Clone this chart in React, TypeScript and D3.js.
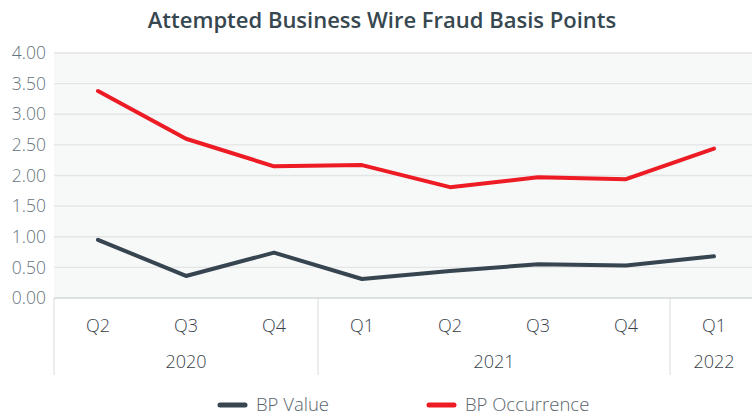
import React from "react";
import * as d3 from "d3";

const quarters = ["Q2", "Q3", "Q4", "Q1", "Q2", "Q3", "Q4", "Q1"];
const years = [
  { label: "2020", start: 0, end: 3 },
  { label: "2021", start: 3, end: 7 },
  { label: "2022", start: 7, end: 8 },
];
const bpValue = [0.95, 0.36, 0.74, 0.31, 0.44, 0.55, 0.53, 0.68];
const bpOccurrence = [3.38, 2.6, 2.15, 2.17, 1.81, 1.97, 1.94, 2.44];
const yTicks = [0, 0.5, 1, 1.5, 2, 2.5, 3, 3.5, 4];
const seriesNames = ["BP Value", "BP Occurrence"];
const seriesColors = ["#36454f", "#ed1c24"];

const W = 752;
const H = 417;
const left = 54;
const right = 758;
const top = 53;
const bottom = 298;
const FONT = "'Open Sans', sans-serif";

export default function App() {
  const idx = quarters.map((_, i) => i);
  const x = d3.scaleBand<number>().domain(idx).range([left, right]).padding(0);
  const y = d3.scaleLinear().domain([0, 4]).range([bottom, top]);
  const line = d3
    .line<number>()
    .x((_, i) => (x(i) as number) + x.bandwidth() / 2)
    .y((d) => y(d));

  const series = [bpValue, bpOccurrence];

  return (
    <svg
      width={W}
      height={H}
      style={{ position: "absolute", left: 0, top: 0, background: "#fff" }}
    >
      <text
        x={382}
        y={28}
        textAnchor="middle"
        fontFamily={FONT}
        fontWeight={600}
        fontSize={22}
        fill="#37474f"
      >
        Attempted Business Wire Fraud Basis Points
      </text>
      <rect x={left} y={top} width={right - left} height={bottom - top} fill="#f7f8f8" />
      {yTicks.map((t) => (
        <g key={t}>
          <line
            x1={left}
            x2={right}
            y1={y(t)}
            y2={y(t)}
            stroke={t === 0 ? "#d5d8da" : "#e3e5e6"}
            strokeWidth={1.3}
          />
          <text
            x={46}
            y={y(t)}
            dy="0.35em"
            textAnchor="end"
            fontFamily={FONT}
            fontWeight={300}
            fontSize={17.5}
            fill="#66737c"
          >
            {t.toFixed(2)}
          </text>
        </g>
      ))}
      {[0, 3, 7].map((b) => (
        <line
          key={b}
          x1={x(b) as number}
          x2={x(b) as number}
          y1={bottom}
          y2={375}
          stroke="#d8dadc"
          strokeWidth={1}
        />
      ))}
      {quarters.map((q, i) => (
        <text
          key={i}
          x={(x(i) as number) + x.bandwidth() / 2}
          y={326}
          dy="0.35em"
          textAnchor="middle"
          fontFamily={FONT}
          fontWeight={300}
          fontSize={18}
          fill="#37414a"
        >
          {q}
        </text>
      ))}
      {years.map((yr) => {
        const x0 = x(yr.start) as number;
        const x1 = x(yr.end - 1) as number;
        const cx = (x0 + x1 + x.bandwidth()) / 2;
        return (
          <text
            key={yr.label}
            x={cx}
            y={362}
            dy="0.35em"
            textAnchor="middle"
            fontFamily={FONT}
            fontWeight={300}
            fontSize={18}
            fill="#37414a"
          >
            {yr.label}
          </text>
        );
      })}
      {series.map((s, k) => (
        <path
          key={k}
          d={line(s) as string}
          fill="none"
          stroke={seriesColors[k]}
          strokeWidth={4}
          strokeLinecap="round"
          strokeLinejoin="round"
        />
      ))}
      {seriesNames.map((n, k) => {
        const lx = k === 0 ? 220 : 429;
        return (
          <g key={n}>
            <line
              x1={lx}
              x2={lx + 25}
              y1={405}
              y2={405}
              stroke={seriesColors[k]}
              strokeWidth={5}
              strokeLinecap="round"
            />
            <text
              x={lx + 36}
              y={411}
              fontFamily={FONT}
              fontWeight={300}
              fontSize={18.5}
              fill="#5a646c"
            >
              {n}
            </text>
          </g>
        );
      })}
    </svg>
  );
}
